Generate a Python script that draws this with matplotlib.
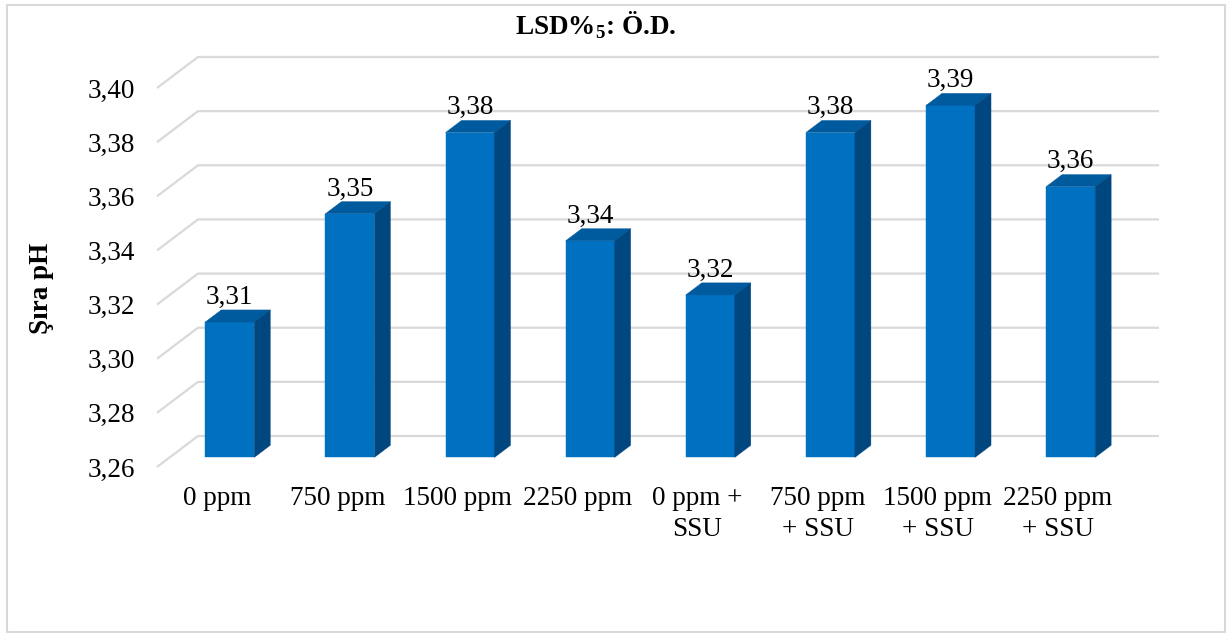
import matplotlib
matplotlib.use("Agg")
import matplotlib.pyplot as plt
from matplotlib.patches import Rectangle, Polygon

# ---- data -------------------------------------------------------------
categories = ["0 ppm", "750 ppm", "1500 ppm", "2250 ppm",
              "0 ppm +\nSSU", "750 ppm\n+ SSU", "1500 ppm\n+ SSU", "2250 ppm\n+ SSU"]
ph_values = [3.31, 3.35, 3.38, 3.34, 3.32, 3.38, 3.39, 3.36]
y_ticks = [3.26, 3.28, 3.30, 3.32, 3.34, 3.36, 3.38, 3.40]
y_tick_labels = ["3,26", "3,28", "3,30", "3,32", "3,34", "3,36", "3,38", "3,40"]
title_text = "LSD%$_{\\mathbf{5}}$: Ö.D."
y_label = "Şıra pH"

# ---- style ------------------------------------------------------------
plt.rcParams["font.family"] = ["Liberation Serif", "DejaVu Serif"]
plt.rcParams["mathtext.fontset"] = "custom"
plt.rcParams["mathtext.rm"] = "Liberation Serif"
plt.rcParams["mathtext.bf"] = "Liberation Serif:bold"

FRONT = "#0070C0"
TOP = "#005A9E"
SIDE = "#00467F"
GRID = "#D9D9D9"
FS = 19.5

W_PX, H_PX = 1227, 633
fig = plt.figure(figsize=(W_PX / 100, H_PX / 100), dpi=100)

# plot area (front plane of the 3-D box), in pixel terms
left_px, right_px = 157, 1118
top_px, bottom_px = 88, 467
ax = fig.add_axes([left_px / W_PX, 1 - bottom_px / H_PX,
                   (right_px - left_px) / W_PX, (bottom_px - top_px) / H_PX])
n = len(categories)
ymin, ymax = y_ticks[0], y_ticks[-1]
ax.set_xlim(0, n)
ax.set_ylim(ymin, ymax)
for s in ax.spines.values():
    s.set_visible(False)

# depth vector of the box (full wall depth) in data units
px_x = n / (right_px - left_px)
px_y = (ymax - ymin) / (bottom_px - top_px)
depth_dx = 41 * px_x
depth_dy = 31 * px_y

# back-wall and side-wall gridlines
for v in y_ticks:
    ax.plot([0, depth_dx, n + depth_dx], [v, v + depth_dy, v + depth_dy],
            color=GRID, lw=1.6, clip_on=False, zorder=1, solid_capstyle="butt")

# 3-D columns
bar_w = 49 * px_x
f0, f1 = 0.31, 0.70  # front / back of each column as fraction of depth
ox0, oy0 = f0 * depth_dx, f0 * depth_dy
ox1, oy1 = f1 * depth_dx, f1 * depth_dy
for i, v in enumerate(ph_values):
    xl = i + 0.5 - bar_w / 2
    xr = i + 0.5 + bar_w / 2
    ax.add_patch(Rectangle((xl + ox0, ymin + oy0), bar_w, v - ymin,
                           facecolor=FRONT, edgecolor=FRONT, lw=0.3,
                           clip_on=False, zorder=3))
    ax.add_patch(Polygon([(xl + ox0, v + oy0), (xr + ox0, v + oy0),
                          (xr + ox1, v + oy1), (xl + ox1, v + oy1)],
                         closed=True, facecolor=TOP, edgecolor=TOP, lw=0.3,
                         clip_on=False, zorder=3))
    ax.add_patch(Polygon([(xr + ox0, ymin + oy0), (xr + ox1, ymin + oy1),
                          (xr + ox1, v + oy1), (xr + ox0, v + oy0)],
                         closed=True, facecolor=SIDE, edgecolor=SIDE, lw=0.3,
                         clip_on=False, zorder=3))
    ax.annotate(f"{v:.2f}".replace(".", ","), xy=(i + 0.5 + ox0, v + oy1),
                xytext=(0, 4.5), textcoords="offset points",
                ha="center", va="baseline", fontsize=FS, color="black", zorder=4)

# axes ticks
ax.set_yticks(y_ticks)
ax.set_yticklabels(y_tick_labels, fontsize=FS)
ax.set_xticks([i + 0.5 for i in range(n)])
ax.set_xticklabels(categories, fontsize=FS, linespacing=1.3)
ax.tick_params(axis="y", length=0, pad=16)
ax.tick_params(axis="x", length=0, pad=14)
ax.set_facecolor("none")

# title and axis title
fig.text(596 / W_PX, 1 - 25 / H_PX, title_text, ha="center", va="center",
         fontsize=FS, fontweight="bold")
fig.text(42 / W_PX, 1 - 288 / H_PX, y_label, rotation=90, ha="center",
         va="center", fontsize=FS, fontweight="bold")

# chart-area border
fig.add_artist(Rectangle((6.5 / W_PX, 1 - 632 / H_PX), (1225 - 6.5) / W_PX,
                         (632 - 4.5) / H_PX, transform=fig.transFigure,
                         facecolor="none", edgecolor=GRID, lw=1.5))

fig.savefig("out.png", dpi=100, facecolor="white")
